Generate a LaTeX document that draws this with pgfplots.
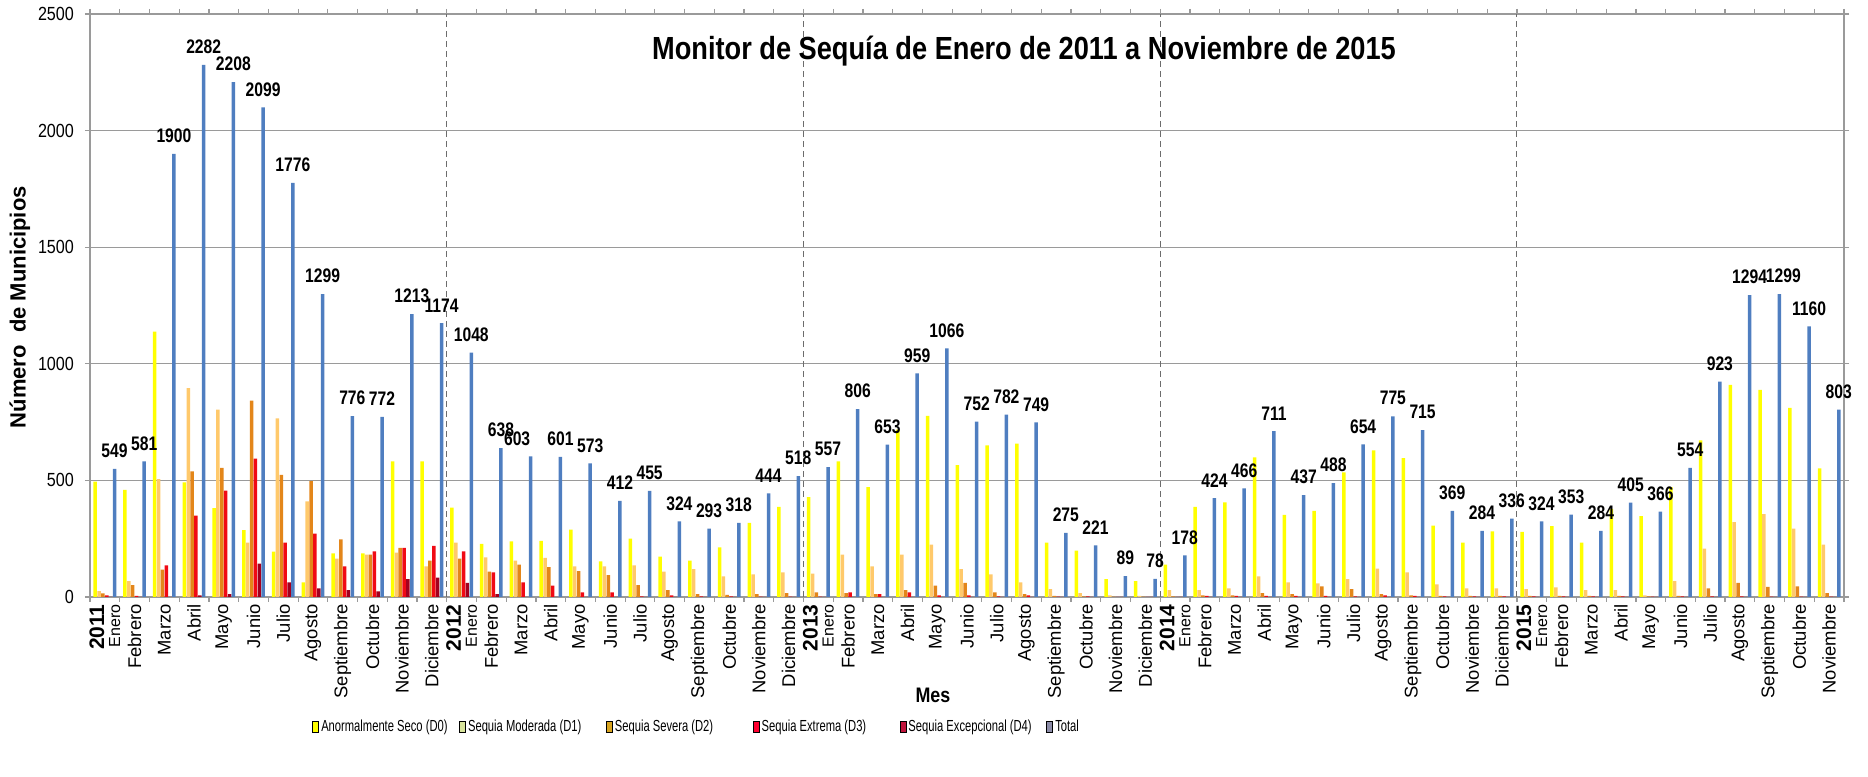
\documentclass[border=0pt]{standalone}
\usepackage{fontspec}
\setmainfont{Liberation Sans}
\newfontfamily\nar[FakeStretch=0.85]{Liberation Sans}
\newfontfamily\narl[FakeStretch=0.80]{Liberation Sans}
\newfontfamily\narr[FakeStretch=0.70]{Liberation Sans}
\usepackage{pgfplots}
\usepackage{pgfplotstable}
\pgfplotsset{compat=1.18}
\usetikzlibrary{calc}

\definecolor{cD0}{HTML}{FFFF00}
\definecolor{cD1}{HTML}{FFC96B}
\definecolor{cD2}{HTML}{E3861A}
\definecolor{cD3}{HTML}{F00A14}
\definecolor{cD4}{HTML}{A3001E}
\definecolor{cT}{HTML}{4F7EC0}
\definecolor{lD1}{HTML}{D8E49B}
\definecolor{lD2}{HTML}{D9A520}
\definecolor{lD3}{HTML}{FF0030}
\definecolor{lD4}{HTML}{C0143C}
\definecolor{lT}{HTML}{8C8CA8}
\definecolor{gridc}{HTML}{9A9A9A}

% lx = horizontal offset (pt) of the total's data label
\pgfplotstableread{
x D0 D1 D2 D3 D4 T lx
0 495 25 15 7 0 549 0
1 459 68 51 5 0 581 0
2 1138 505 117 136 0 1900 0
3 491 896 539 349 7 2282 0
4 381 803 554 456 12 2208 0
5 287 233 842 593 143 2099 0
6 194 766 524 233 63 1776 0
7 63 410 497 272 37 1299 0
8 187 165 247 131 29 776 0
9 187 182 182 196 24 772 0
10 582 190 211 211 77 1213 0
11 582 131 156 219 83 1174 0
12 383 233 165 196 60 1048 0
13 228 170 109 105 12 638 0
14 238 156 139 63 0 603 -6.8
15 241 168 128 49 0 601 0
16 289 131 111 20 0 573 0
17 153 131 94 20 0 412 0
18 250 136 51 3 0 455 0
19 173 109 29 7 0 324 0
20 156 119 12 3 0 293 0
21 213 88 9 3 0 318 0
22 318 97 12 2 0 444 0
23 386 105 17 2 0 518 0
24 428 100 20 2 0 557 0
25 582 182 17 20 0 806 0
26 471 131 12 12 0 653 0
27 718 182 29 20 0 959 0
28 777 224 49 7 0 1066 0
29 565 119 60 7 0 752 0
30 650 97 20 3 0 782 0
31 658 63 12 7 0 749 0
32 233 34 5 2 0 275 0
33 199 17 3 3 0 221 0
34 77 7 2 0 0 89 0
35 68 5 2 0 0 78 0
36 139 29 3 0 0 178 0
37 386 29 7 5 0 424 0
38 406 37 7 5 0 466 0
39 599 88 17 5 0 711 0
40 352 63 12 5 0 437 0
41 369 58 46 5 0 488 0
42 534 77 34 3 0 654 0
43 629 122 12 7 0 775 0
44 595 105 7 5 0 715 0
45 306 54 5 3 0 369 0
46 233 37 5 3 0 284 0
47 281 37 5 3 0 336 0
48 279 34 5 3 0 324 0
49 304 41 5 3 0 353 0
50 233 29 5 3 0 284 0
51 378 29 5 3 0 405 0
52 347 7 3 2 0 366 0
53 471 68 5 3 0 554 0
54 672 207 37 3 0 923 0
55 910 321 60 3 0 1294 0
56 888 355 43 2 0 1299 2
57 811 293 46 2 0 1160 0
58 551 224 17 2 0 803 0
}\datatable

\newcommand{\yl}[1]{{\fontsize{10.5}{10.5}\selectfont\bfseries #1}\\[-1.5pt]{\fontsize{8}{8}\selectfont Enero}}

\begin{document}
\begin{tikzpicture}
\begin{axis}[
  scale only axis, width=877pt, height=291.5pt,
  ybar, bar width=1.75pt,
  xmin=-0.5, xmax=58.5, ymin=0, ymax=2500,
  /pgf/number format/1000 sep={},
  /pgf/number format/assume math mode=true,
  axis line style={gridc, line width=0.6pt},
  ytick={0,500,...,2500},
  ymajorgrids, major grid style={gridc, line width=0.6pt},
  tick align=outside,
  major tick length=2.5pt, minor tick length=2.5pt,
  ytick style={gridc, line width=0.6pt},
  yticklabel style={font=\nar\fontsize{9.5}{10}\selectfont, xshift=-2pt},
  xtick={0,...,58},
  major x tick style={draw=none},
  minor xtick={-0.5,0.5,...,58.5},
  minor x tick style={gridc, line width=0.6pt},
  extra x ticks={11.5,23.5,35.5,47.5},
  extra x tick labels={},
  extra x tick style={xmajorgrids=true, major grid style={dash pattern=on 3pt off 2pt, gray!85!black, line width=0.5pt}},
  xticklabel style={rotate=90, anchor=east, align=right, font=\fontsize{9.2}{9.5}\selectfont, inner sep=1pt},
  xticklabels={{\yl{2011}},Febrero,Marzo,Abril,Mayo,Junio,Julio,Agosto,Septiembre,Octubre,Noviembre,Diciembre,
    {\yl{2012}},Febrero,Marzo,Abril,Mayo,Junio,Julio,Agosto,Septiembre,Octubre,Noviembre,Diciembre,
    {\yl{2013}},Febrero,Marzo,Abril,Mayo,Junio,Julio,Agosto,Septiembre,Octubre,Noviembre,Diciembre,
    {\yl{2014}},Febrero,Marzo,Abril,Mayo,Junio,Julio,Agosto,Septiembre,Octubre,Noviembre,Diciembre,
    {\yl{2015}},Febrero,Marzo,Abril,Mayo,Junio,Julio,Agosto,Septiembre,Octubre,Noviembre},
  xlabel={Mes},
  xlabel style={at={(axis description cs:0.4806,-0.168)}, anchor=center, font=\nar\bfseries\fontsize{10.5}{11}\selectfont},
  ylabel={Número\ \ de Municipios},
  ylabel style={at={(axis description cs:-0.040,0.497)}, anchor=center, font=\bfseries\fontsize{11}{12}\selectfont},
  legend columns=6,
  legend style={at={(axis description cs:0.1266,-0.223)}, anchor=west, draw=none, fill=none, inner sep=0pt,
    font=\narr\fontsize{8}{9}\selectfont,
    nodes={inner sep=1pt},
    /tikz/every even column/.append style={column sep=0pt}},
  legend image code/.code={\fill[#1] (0pt,-2.8pt) rectangle (3pt,2.8pt);},
  legend cell align=left,
]
\addlegendimage{fill=cD0}
\addlegendimage{fill=lD1}
\addlegendimage{fill=lD2}
\addlegendimage{fill=lD3}
\addlegendimage{fill=lD4}
\addlegendimage{fill=lT}
\legend{\makebox[68pt][l]{Anormalmente Seco (D0)},\makebox[68pt][l]{Sequia Moderada (D1)},\makebox[68pt][l]{Sequia Severa (D2)},\makebox[68pt][l]{Sequia Extrema (D3)},\makebox[68pt][l]{Sequia Excepcional (D4)},Total}

\addplot[forget plot, fill=cD0, draw=none, bar shift=-4.825pt] table[x=x,y=D0]{\datatable};
\addplot[forget plot, fill=cD1, draw=none, bar shift=-2.895pt] table[x=x,y=D1]{\datatable};
\addplot[forget plot, fill=cD2, draw=none, bar shift=-0.965pt] table[x=x,y=D2]{\datatable};
\addplot[forget plot, fill=cD3, draw=none, bar shift=0.965pt] table[x=x,y=D3]{\datatable};
\addplot[forget plot, fill=cD4, draw=none, bar shift=2.895pt] table[x=x,y=D4]{\datatable};
\addplot[forget plot, fill=cT, draw=none, bar shift=4.825pt,
  visualization depends on={\thisrow{lx}\as\lxoff},
  nodes near coords,
  nodes near coords style={font=\narl\bfseries\fontsize{9.8}{10.5}\selectfont, black, yshift=2pt, xshift=\lxoff pt}]
  table[x=x,y=T]{\datatable};

\node[font=\nar\bfseries\fontsize{16}{17}\selectfont, anchor=base] at (rel axis cs:0.5325,0.922) {Monitor de Sequía de Enero de 2011 a Noviembre de 2015};
\end{axis}
\pgfresetboundingbox
\path[use as bounding box] ($(current axis.south west)+(-45pt,-90pt)$) rectangle ($(current axis.north east)+(12pt,7pt)$);
\end{tikzpicture}
\end{document}
